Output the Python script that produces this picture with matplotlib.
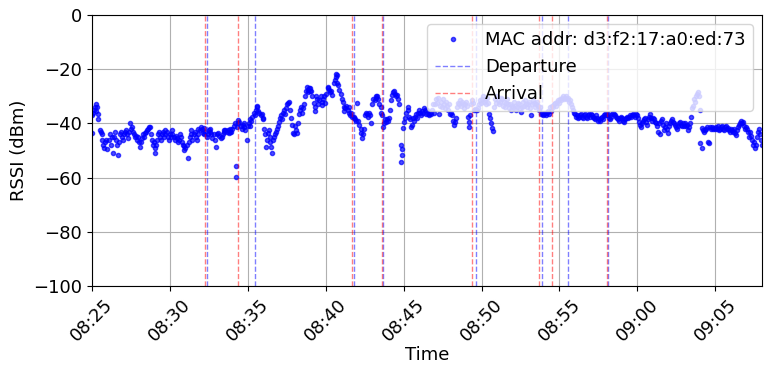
import pandas as pd
import matplotlib.pyplot as plt
import matplotlib.dates as mdates

mac = "d3:f2:17:a0:ed:73"
day = "2023-05-16"
start = pd.Timestamp(f"{day} 08:25:00")

# Seconds since 08:25:00 for each reading, one row per minute
t_sec = [
    0, 1, 3, 7, 10, 14, 16, 18, 22, 24, 30, 33, 37, 39, 43, 47, 51, 55, 58,
    64, 68, 72, 76, 81, 84, 87, 91, 95, 99, 103, 107, 110, 114, 118,
    122, 126, 130, 133, 137, 141, 148, 151, 153, 157, 160, 164, 168, 172, 176,
    182, 186, 189, 191, 195, 199, 203, 207, 210, 214, 218, 225, 228, 230, 234, 238,
    241, 244, 247, 249, 253, 257, 260, 264, 268, 272, 276, 280, 283, 287, 291, 295, 299,
    303, 307, 310, 314, 318, 322, 326, 330, 334, 337, 341, 345, 349, 353, 356,
    360, 364, 368, 372, 376, 380, 383, 387, 391, 395, 399, 403, 407, 410, 414, 418,
    422, 426, 430, 433, 437, 441, 445, 449, 453, 456, 460, 464, 468, 472, 476,
    483, 487, 491, 495, 499, 503, 507, 510, 514, 518, 522, 526, 530, 533, 537,
    541, 545, 549, 553, 555, 557, 561, 564, 568, 572, 576, 580, 584, 587, 591, 595, 599,
    603, 607, 610, 614, 618, 622, 626, 630, 634, 637, 641, 645, 649, 653, 657,
    660, 664, 668, 671, 672, 676, 680, 684, 687, 691, 694, 697, 701, 705, 708, 712, 716,
    721, 724, 728, 732, 736, 740, 744, 747, 751, 755, 759, 763, 767, 770, 774, 778,
    782, 786, 789, 793, 797, 801, 805, 809, 812, 816, 820, 824, 828, 830, 832, 835, 839,
    841, 845, 849, 853, 857, 860, 864, 868, 872, 876, 880, 884, 887, 891, 895, 899,
    903, 907, 910, 914, 918, 922, 926, 930, 934, 938, 940, 944, 945, 949, 953, 957,
    961, 965, 969, 972, 976, 980, 984, 988, 991, 995, 999, 1003, 1007, 1010, 1014, 1018,
    1022, 1026, 1030, 1034, 1037, 1041, 1045, 1049, 1053, 1057, 1060, 1064, 1068, 1072, 1076,
    1080, 1083, 1088, 1092, 1095, 1099, 1103, 1107, 1111, 1114, 1118, 1122, 1126, 1130, 1134, 1137,
    1141, 1145, 1149, 1152, 1156, 1160, 1164, 1168, 1172, 1176, 1180, 1184, 1190, 1191, 1193, 1195, 1199,
    1203, 1207, 1211, 1215, 1218, 1222, 1226, 1230, 1234, 1238, 1241, 1245, 1249, 1253, 1257,
    1260, 1264, 1268, 1272, 1276, 1280, 1283, 1287, 1291, 1295, 1299, 1303, 1307, 1310, 1314, 1318,
    1322, 1326, 1330, 1333, 1337, 1341, 1345, 1349, 1353, 1357, 1360, 1364, 1368, 1372, 1376,
    1380, 1383, 1387, 1391, 1395, 1399, 1403, 1406, 1410, 1414, 1418, 1422, 1426, 1430, 1433, 1437,
    1441, 1445, 1449, 1451, 1453, 1456, 1460, 1464, 1468, 1472, 1476, 1480, 1483, 1487, 1491, 1495, 1499,
    1503, 1506, 1510, 1514, 1518, 1522, 1526, 1530, 1533, 1537, 1541, 1545, 1549, 1553, 1557,
    1560, 1564, 1568, 1572, 1576, 1580, 1584, 1587, 1591, 1595, 1599, 1603, 1607, 1610, 1614, 1618,
    1622, 1626, 1630, 1633, 1637, 1641, 1645, 1649, 1653, 1657, 1660, 1664, 1668, 1672, 1676,
    1680, 1683, 1687, 1691, 1695, 1699, 1703, 1707, 1710, 1714, 1718, 1722, 1726, 1730, 1733, 1737,
    1741, 1745, 1749, 1753, 1757, 1760, 1764, 1768, 1772, 1776, 1780, 1784, 1787, 1791, 1795,
    1799, 1803, 1807, 1811, 1814, 1818, 1822, 1826, 1830, 1834, 1838, 1841, 1845, 1849, 1853, 1857,
    1860, 1864, 1868, 1872, 1876, 1880, 1884, 1888, 1891, 1895, 1899, 1903, 1907, 1911, 1914, 1918,
    1922, 1926, 1930, 1934, 1937, 1941, 1945, 1949, 1953, 1957, 1961, 1964, 1968, 1972, 1976,
    1980, 1983, 1987, 1991, 1995, 1999, 2003, 2006, 2010, 2014, 2018, 2022, 2026, 2030, 2033, 2037,
    2041, 2045, 2049, 2053, 2056, 2060, 2064, 2068, 2072, 2076, 2079, 2083, 2087, 2091, 2095, 2099,
    2103, 2107, 2111, 2114, 2118, 2122, 2126, 2130, 2134, 2137, 2141, 2145, 2149, 2153, 2157,
    2160, 2164, 2168, 2172, 2176, 2180, 2184, 2188, 2192, 2195, 2199, 2203, 2207, 2211, 2215, 2219,
    2222, 2226, 2230, 2233, 2237, 2241, 2245, 2249, 2253, 2257, 2260, 2264, 2268, 2272, 2276,
    2280, 2283, 2287, 2291, 2295, 2299, 2303, 2306, 2310, 2314, 2318, 2322, 2326, 2330, 2333, 2337,
    2341, 2343, 2347, 2349, 2353, 2357, 2360, 2364, 2368, 2372, 2376, 2380, 2384, 2387, 2391, 2395, 2399,
    2403, 2407, 2411, 2414, 2418, 2422, 2426, 2430, 2434, 2437, 2441, 2445, 2449, 2453, 2457,
    2460, 2464, 2468, 2472, 2476, 2479, 2483, 2487, 2491, 2495, 2499, 2503, 2506, 2510, 2514, 2518,
    2522, 2526, 2529, 2533, 2537, 2541, 2545, 2549, 2553, 2556, 2560, 2564, 2568, 2572, 2576, 2580,
]

# RSSI readings in dBm, same rows as t_sec
rssi = [
    -37, -43.5, -36, -35, -34, -33, -35.5, -34, -36.5, -38.5, -42.5, -43, -44, -46, -48, -49, -47, -46, -49.5,
    -46, -44, -48, -45, -51, -45, -43, -46, -48, -51.5, -47, -44, -43, -45, -46,
    -44, -43, -42.5, -44, -45.5, -43, -40, -42, -41.5, -43, -44, -45, -44.5, -46, -45,
    -47, -48.8, -47, -45.5, -44, -45, -43.5, -43, -42.5, -42, -41.5, -41.5, -44, -46, -48, -47,
    -49, -51, -48, -46, -44, -43, -45, -46, -44, -43, -45, -44, -42.5, -43, -45, -46, -44,
    -45, -42.5, -44, -45, -46, -44.5, -45.5, -47, -46, -44, -45, -47, -48, -48.5, -50,
    -49, -48, -52.6, -47, -45, -44, -42.5, -46, -44, -43, -45, -46, -44, -42, -42.5, -41.5,
    -42, -43.5, -44, -41.8, -43, -45, -44, -42.5, -43, -42, -44, -45.5, -44, -46, -48.6,
    -44, -43.5, -44.5, -45.5, -45, -44, -43, -42.5, -42.5, -43, -42.5, -43.5, -43, -42, -43,
    -42, -41, -40, -55.7, -59.6, -41.5, -38.8, -40, -39.5, -41, -42, -40.5, -40, -41.5, -42.5, -46, -41,
    -40, -38.5, -41, -39, -37.5, -36, -37, -35, -33.5, -34, -35.5, -36, -37, -36.5, -38,
    -38.5, -42, -44, -48.8, -46, -43.5, -42.5, -45, -47, -48.8, -50.8, -46, -45, -44, -43, -42, -41,
    -39.5, -38, -37, -38.5, -36, -35, -36.5, -34.5, -33, -32.5, -32.2, -35, -38, -40.5, -43.5, -44,
    -41, -42.5, -43.5, -40, -36.5, -35, -34, -36, -34.5, -33, -30, -28, -26.5, -27.5, -28.5, -27, -26.8,
    -28, -28, -30, -32.5, -35.5, -34, -30, -31, -33, -31.5, -30, -32, -33.3, -31, -30, -32.5,
    -29, -27, -26.5, -27.5, -28.5, -28, -29.5, -25, -24, -22.8, -21.8, -22.3, -25, -26, -27.5, -29,
    -31, -32, -34, -35.5, -34.5, -33.5, -35, -34, -36, -37, -36, -37.5, -38, -37.5, -38.5, -39,
    -32.6, -39, -40.5, -42, -43.5, -45.5, -44, -42, -37, -36, -36.5, -37.5, -36, -37, -40,
    -33, -31, -31.5, -30, -30.5, -30, -31, -33, -34, -36, -37, -41.5, -40, -38.5, -39.5, -38.5,
    -39, -38, -35, -31.5, -29.5, -28.3, -28, -29, -30, -29.5, -31, -33, -54.1, -48, -49.6, -51.7, -41.8,
    -39.5, -38, -36, -34, -35, -37.5, -38.5, -41.5, -40.5, -38, -39, -37.5, -36.5, -38, -36,
    -35, -36, -37, -35.5, -36, -34.5, -35, -36.5, -35, -36.5, -37, -36, -36.5, -35, -33, -36,
    -33, -31, -32.5, -30.5, -36.5, -33.5, -32, -34, -31, -33, -34.5, -32, -33.5, -35, -33,
    -36.5, -36, -37, -39, -40.5, -39.5, -38, -34, -32.5, -33, -31.5, -33.5, -32, -33, -34.5, -33,
    -32, -33.5, -37.5, -39.4, -41.2, -37, -33, -31.5, -32.5, -35, -34.8, -35.2, -35, -34.5, -33, -31.5, -32.5,
    -31, -30, -32, -31.5, -33, -30.5, -32.5, -36.5, -38, -40, -41.8, -42.7, -34, -31, -32.5,
    -30, -31.5, -33, -32, -30.5, -31, -33.5, -32, -34, -32.5, -31, -33, -34.5, -33, -35, -33.5,
    -34, -32, -33.5, -35, -34, -32.5, -33, -34.5, -35.7, -34, -32, -33.5, -31.5, -33, -34,
    -33, -32, -34.5, -37, -33, -31.5, -32.5, -34, -33, -32, -33.5, -35, -34, -36.5, -36, -37,
    -36.5, -36, -37, -36, -35.5, -36.5, -34, -35.5, -33.5, -34, -33, -32.5, -33.5, -32, -31.5,
    -32.5, -31, -31.5, -30.5, -30, -31, -30.5, -30, -31, -30.5, -32, -31.5, -33, -34, -35, -36,
    -36.5, -37.5, -37, -38, -37.5, -37, -36.5, -37.5, -38, -37, -36.5, -37.5, -38, -37, -36.5, -37.5,
    -36.5, -37, -37.5, -38, -38.5, -37, -38, -39, -38.5, -39, -38, -37.5, -38.5, -37, -36.5,
    -37, -37, -36.5, -38, -38.5, -37.5, -36.5, -36, -36.5, -37, -37.5, -38, -38.5, -39, -38, -37.5,
    -38, -39, -39.5, -38.5, -38, -37.5, -38, -37.5, -37, -37.5, -37, -36.5, -37, -37.5, -36.5, -37,
    -38, -39.5, -40.5, -41.2, -40, -39, -38.5, -38, -39.5, -40.5, -38.5, -37.5, -36.5, -38, -39,
    -38, -38.5, -39.5, -40, -41, -43, -40, -44, -39, -38.5, -40.5, -42.5, -41.5, -40, -42, -43.5,
    -41, -40, -39, -38.5, -39.5, -40, -40.5, -41.5, -42, -41, -40, -39.5, -40.5, -41, -40,
    -41, -40, -41, -40.5, -42.5, -41.5, -40, -37.5, -34.5, -33.5, -31, -32, -30, -29, -28.3, -30,
    -35, -47.4, -49.2, -41.8, -42.5, -43, -42.5, -42, -41.5, -46.7, -47.4, -41.2, -42, -41.5, -42, -41.8, -42,
    -41.5, -42, -41, -42.5, -42, -41.5, -41, -42, -42.5, -41.5, -41, -42, -41.8, -42.5, -43,
    -42, -42.5, -43, -42, -43.5, -44.3, -42.5, -41.5, -40.5, -40, -39, -40, -39.5, -41, -42, -41.5,
    -42, -43, -44.9, -43, -44.5, -46, -48, -47, -49.2, -48, -45, -43, -42, -44, -46, -48,
]

# Arrival / departure events detected for this device
arrivals = ["08:32:14", "08:34:23", "08:41:43", "08:43:37",
            "08:49:23", "08:53:43", "08:54:33", "08:58:02"]
departures = ["08:32:24", "08:35:26", "08:41:50", "08:43:41",
              "08:49:38", "08:53:51", "08:55:32", "08:58:08"]

times = start + pd.to_timedelta(t_sec, unit="s")

plt.rcParams["font.size"] = 13
fig = plt.figure(figsize=(7.64, 3.66), dpi=100)
ax = fig.add_axes([0.1204, 0.2186, 0.877, 0.7404])

ax.plot(times, rssi, ".", color="blue", alpha=0.7, label=f"MAC addr: {mac}")

for i, t in enumerate(departures):
    ax.axvline(pd.Timestamp(f"{day} {t}"), color="blue", linestyle="--",
               linewidth=1, alpha=0.5, label="Departure" if i == 0 else "_nolegend_")
for i, t in enumerate(arrivals):
    ax.axvline(pd.Timestamp(f"{day} {t}"), color="red", linestyle="--",
               linewidth=1, alpha=0.5, label="Arrival" if i == 0 else "_nolegend_")

ax.set_ylim(-100, 0)
ax.set_xlim(times.min(), times.max())
ax.xaxis.set_major_locator(mdates.MinuteLocator(byminute=range(0, 60, 5)))
ax.xaxis.set_major_formatter(mdates.DateFormatter("%H:%M"))
plt.setp(ax.get_xticklabels(), rotation=45)
ax.grid(True)

ax.set_xlabel("Time", labelpad=1)
ax.set_ylabel("RSSI (dBm)")
ax.legend(loc="upper right")

fig.savefig("out.png", dpi=100)
